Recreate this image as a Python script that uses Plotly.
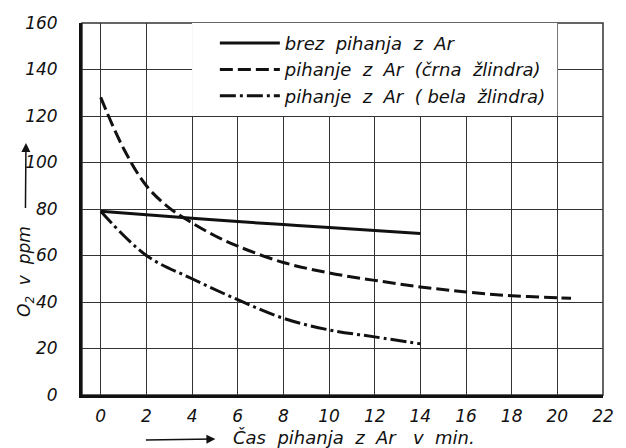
import plotly.graph_objects as go

# Blowing time (min) and O2 content (ppm) for the three practices
t_no_ar = [0, 2, 4, 6, 8, 10, 12, 14]
o2_no_ar = [79, 77.5, 76, 74.6, 73.3, 72, 70.8, 69.5]

t_black = [0, 1, 2, 3, 4, 5, 6, 8, 10, 12, 14, 16, 18, 20, 20.6]
o2_black = [128, 106, 90, 80.5, 74, 68.5, 64, 57, 52.5, 49.3, 46.5, 44.3, 42.7, 41.8, 41.6]

t_white = [0, 2, 4, 6, 8, 10, 12, 14]
o2_white = [79, 60, 50, 41, 33, 28, 25, 22]

x_ticks = list(range(0, 23, 2))
y_ticks = list(range(0, 161, 20))

names = [
    "brez  pihanja  z  Ar",
    "pihanje  z  Ar  (črna  žlindra)",
    "pihanje  z  Ar  ( bela  žlindra)",
]

FONT = "DejaVu Sans"
INK = "#111111"


def it(s):
    return f"<i>{s}</i>"


fig = go.Figure()
fig.add_trace(go.Scatter(x=t_no_ar, y=o2_no_ar, mode="lines", name=it(names[0]),
                         line=dict(color=INK, width=3, shape="spline")))
fig.add_trace(go.Scatter(x=t_black, y=o2_black, mode="lines", name=it(names[1]),
                         line=dict(color=INK, width=3, dash="13px,5px", shape="spline")))
fig.add_trace(go.Scatter(x=t_white, y=o2_white, mode="lines", name=it(names[2]),
                         line=dict(color=INK, width=3, dash="16px,4px,3px,4px", shape="spline")))

# white panel behind the legend, above the grid
fig.add_shape(type="rect", xref="x", yref="y", x0=4, x1=20, y0=120, y1=160,
              fillcolor="white", line=dict(width=0), layer="between")
# thin frame on the top and right
fig.add_shape(type="rect", xref="paper", yref="paper", x0=0, x1=1, y0=0, y1=1,
              line=dict(color="#333", width=1.5), layer="below")

tick_font = dict(family=FONT, size=17, color=INK, style="italic")

fig.update_layout(
    width=626, height=448,
    margin=dict(l=82, r=14, t=23, b=53),
    paper_bgcolor="white", plot_bgcolor="white",
    font=dict(family=FONT, size=17, color=INK),
    showlegend=True,
    legend=dict(x=0.255, y=0.995, xanchor="left", yanchor="top",
                bgcolor="rgba(0,0,0,0)", borderwidth=0,
                font=dict(family=FONT, size=18, color=INK),
                itemwidth=60, tracegroupgap=0),
    xaxis=dict(range=[-0.82, 22], tickvals=x_ticks, ticktext=[it(v) for v in x_ticks],
               showgrid=True, gridcolor="#333", gridwidth=1.3,
               showline=True, linecolor=INK, linewidth=3,
               zeroline=False, ticks="", ticklabelstandoff=4, tickfont=tick_font),
    yaxis=dict(range=[0, 160], tickvals=y_ticks, ticktext=[it(v) for v in y_ticks],
               showgrid=True, gridcolor="#333", gridwidth=1.3,
               showline=True, linecolor=INK, linewidth=3,
               zeroline=False, ticks="", ticklabelstandoff=18, tickfont=tick_font),
    annotations=[
        # x-axis title; its arrow runs from the left towards the text
        dict(xref="paper", yref="paper", x=(147 - 82) / 530, y=-(440 - 395) / 372,
             ax=208, ay=-3, text=it("Čas  pihanja  z  Ar   v  min."),
             showarrow=True, arrowside="start", startarrowhead=2, startarrowsize=1.2,
             arrowwidth=1.5, arrowcolor=INK, startstandoff=16,
             font=dict(family=FONT, size=18, color=INK)),
        # y-axis title; its arrow points up from the text
        dict(xref="paper", yref="paper", x=(25 - 82) / 530, y=(395 - 143) / 372,
             ax=-1, ay=128, textangle=-90, text=it("O<sub>2</sub>  v  ppm"),
             showarrow=True, arrowhead=2, arrowsize=1.2,
             arrowwidth=1.5, arrowcolor=INK, startstandoff=16,
             font=dict(family=FONT, size=17, color=INK)),
    ],
)

fig.write_html("out.html")
